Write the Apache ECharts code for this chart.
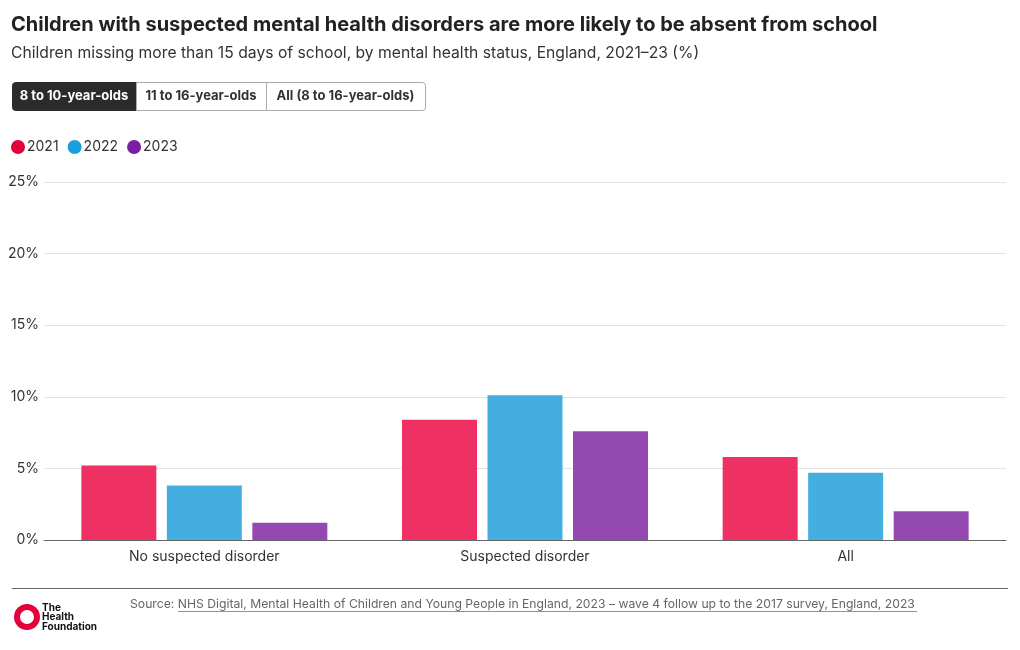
<!DOCTYPE html>
<html>
<head>
<meta charset="utf-8">
<script src="https://cdn.jsdelivr.net/npm/echarts@6/dist/echarts.min.js"></script>
<style>
html,body{margin:0;padding:0;background:#fff;}
#chart{width:1020px;height:650px;}
</style>
</head>
<body>
<div id="chart"></div>
<script>
const categories = ['No suspected disorder', 'Suspected disorder', 'All'];
const seriesNames = ['2021', '2022', '2023'];
const values2021 = [5.2, 8.4, 5.8];
const values2022 = [3.8, 10.1, 4.7];
const values2023 = [1.2, 7.6, 2.0];
const yTicks = [0, 5, 10, 15, 20, 25];
const buttons = ['8 to 10-year-olds', '11 to 16-year-olds', 'All (8 to 16-year-olds)'];

const FONT = 'Inter, "Noto Sans", sans-serif';
const legendColors = ['#e4003b', '#1a9fde', '#7a1fa2'];
const barColors = ['#ef3062', '#44aee0', '#9449b2'];
const allValues = [values2021, values2022, values2023];

const chart = echarts.init(document.getElementById('chart'), null, {renderer: 'canvas'});

const btnX = [12, 136, 266, 425];
const graphics = [];
buttons.forEach((b, i) => {
  const active = i === 0;
  graphics.push({
    type: 'rect', left: btnX[i], top: 82,
    shape: {width: btnX[i+1] - btnX[i], height: 28, r: i === 0 ? [3,0,0,3] : (i === 2 ? [0,3,3,0] : 0)},
    style: {fill: active ? '#2b2b2b' : '#fff', stroke: active ? '#2b2b2b' : '#aaa', lineWidth: 1}
  });
  graphics.push({
    type: 'text', x: (btnX[i] + btnX[i+1]) / 2, y: 96,
    style: {text: b, fill: active ? '#fff' : '#333', font: 'bold 13px ' + FONT, align: 'center', verticalAlign: 'middle'}
  });
});
// footer
graphics.push({type: 'line', shape: {x1: 12, y1: 588.5, x2: 1008, y2: 588.5}, style: {stroke: '#666', lineWidth: 1}});
graphics.push({type: 'text', x: 130, y: 604, style: {
  text: '{a|Source: }{b|NHS Digital, Mental Health of Children and Young People in England, 2023 – wave 4 follow up to the 2017 survey, England, 2023}',
  rich: {a: {fill: '#666', font: '12.2px ' + FONT}, b: {fill: '#666', font: '12.2px ' + FONT}},
  verticalAlign: 'middle'
}});
graphics.push({type: 'line', shape: {x1: 178, y1: 611.5, x2: 917, y2: 611.5}, style: {stroke: '#777', lineWidth: 0.8}});
graphics.push({type: 'circle', shape: {cx: 27, cy: 617, r: 10}, style: {fill: 'none', stroke: '#e4003b', lineWidth: 6}});
graphics.push({type: 'text', x: 42, y: 617, style: {
  text: 'The\nHealth\nFoundation', fill: '#111', font: 'bold 10px ' + FONT, lineHeight: 9.5, verticalAlign: 'middle'
}});

chart.setOption({
  backgroundColor: '#fff',
  animation: false,
  textStyle: {fontFamily: FONT},
  title: {
    text: 'Children with suspected mental health disorders are more likely to be absent from school',
    subtext: 'Children missing more than 15 days of school, by mental health status, England, 2021–23 (%)',
    left: 6, top: 10, itemGap: 10,
    textStyle: {fontSize: 20, fontWeight: 'bold', color: '#222', fontFamily: FONT},
    subtextStyle: {fontSize: 15.7, color: '#333', fontFamily: FONT}
  },
  legend: {
    left: 6, top: 135, itemWidth: 14, itemHeight: 14, itemGap: 9, icon: 'circle',
    textStyle: {fontSize: 14, color: '#333', padding: [0, 0, 0, -3]},
    data: seriesNames.map((n, i) => ({name: n, itemStyle: {color: legendColors[i]}}))
  },
  grid: {left: 44, right: 14, top: 182, bottom: 110, containLabel: false},
  xAxis: {
    type: 'category', data: categories,
    axisLine: {lineStyle: {color: '#666'}},
    axisTick: {alignWithLabel: true, length: 5, lineStyle: {color: '#999'}},
    axisLabel: {fontSize: 14, color: '#333', margin: 10}
  },
  yAxis: {
    type: 'value', min: yTicks[0], max: yTicks[yTicks.length - 1], interval: 5,
    axisLabel: {fontSize: 14, color: '#333', formatter: '{value}%', margin: 5},
    splitLine: {lineStyle: {color: '#e3e3e3'}},
    axisLine: {show: false}, axisTick: {show: false}
  },
  series: seriesNames.map((n, i) => ({
    name: n, type: 'bar', data: allValues[i], barWidth: 75, barGap: '14%',
    itemStyle: {color: barColors[i]}
  })),
  graphic: graphics
});
</script>
</body>
</html>
